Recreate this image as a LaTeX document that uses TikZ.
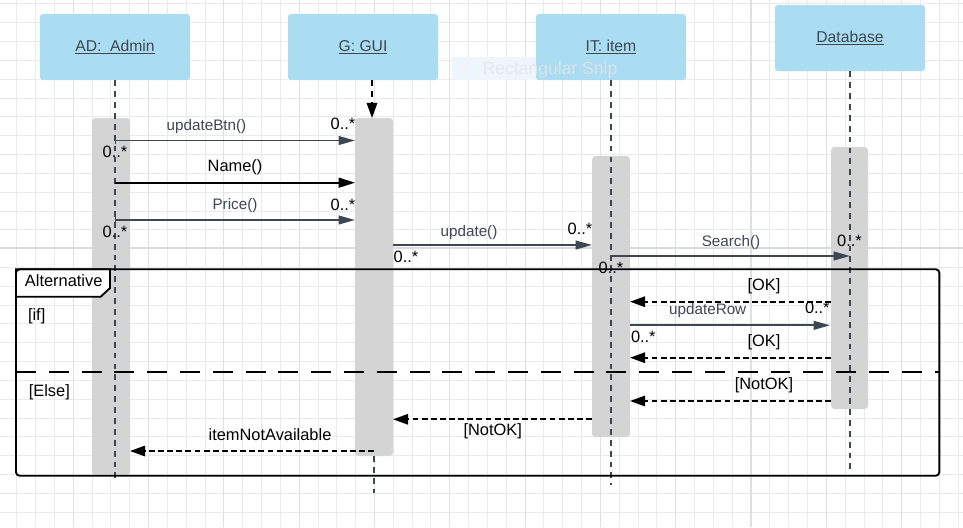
\documentclass[tikz,border=0pt]{standalone}
\usepackage{fontspec}
\setmainfont{Liberation Sans}
\usetikzlibrary{arrows.meta}
\definecolor{headblue}{RGB}{170,221,242}
\definecolor{actgray}{RGB}{212,212,212}
\definecolor{inkgray}{RGB}{61,71,82}
\definecolor{gridminor}{RGB}{234,234,234}
\definecolor{gridmajor}{RGB}{224,224,224}
\definecolor{snipblue}{RGB}{238,245,252}
\begin{document}
\begin{tikzpicture}[x=0.03cm,y=-0.03cm,
    head/.style={fill=headblue,rounded corners=2.5pt,minimum width=4.5cm,minimum height=1.98cm,
      text=inkgray,font=\fontsize{13.4}{16}\selectfont},
    activation/.style={fill=actgray,rounded corners=3pt},
    lifeline/.style={draw=inkgray,line width=1.5pt,dash pattern=on 5pt off 4.3pt},
    msg/.style={draw=inkgray,line width=1.4pt,-{Triangle[length=14pt,width=7.5pt]}},
    tickmsg/.style={msg,{Bar[width=6pt,line width=1.2pt]}-{Triangle[length=14pt,width=7.5pt]}},
    blackmsg/.style={draw=black,line width=1.4pt,-{Triangle[length=14pt,width=8.5pt]}},
    reply/.style={draw=black,line width=1.5pt,dash pattern=on 5pt off 2.8pt,-{Triangle[length=13pt,width=9pt]}},
    frame/.style={draw=black,line width=1.6pt},
    lbl/.style={text=inkgray,font=\fontsize{13}{15}\selectfont,inner sep=0pt},
    blbl/.style={text=black,font=\fontsize{14}{16}\selectfont,inner sep=0pt}]
\useasboundingbox (0,0) rectangle (963,527);
\fill[white] (0,0) rectangle (963,527);
\foreach \i in {0,...,51}
  \draw[gridminor,line width=0.8pt] ({-2.13+\i*18.83},0) -- ++(0,527);
\foreach \i in {0,...,27}
  \draw[gridminor,line width=0.8pt] (0,{3.85+\i*18.83}) -- ++(963,0);
\foreach \i in {0,...,11}
  \draw[gridmajor,line width=0.9pt] ({73.1+\i*75.32},0) -- ++(0,527);
\draw[gray!28,line width=1.3pt] (0,248) -- (963,248);

% screenshot leftover
\fill[snipblue] (452,57) rectangle (673,80);
\fill[gray!10] (463,69) circle (3.5);

\node[head] (admin) at (115,47) {\underline{AD:~ Admin}};
\node[head] (gui) at (363,47) {\underline{G: GUI}};
\node[head] (item) at (611,47) {\underline{IT: item}};
\node[head] (db) at (850,38) {\underline{Database}};
\node[text=gray!20,opacity=0.8,font=\fontsize{15}{17}\selectfont,inner sep=0pt] (snip) at (550,70) {Rectangular Snip};

\fill[activation] (92,118) rectangle (130,475);
\fill[activation] (355,118) rectangle (393,456);
\fill[activation] (592,156) rectangle (630,437);
\fill[activation] (831,147) rectangle (868,409);

\coordinate (adminbot) at (115,483);
\coordinate (guitop) at (372,80);
\coordinate (guiin) at (372,118);
\coordinate (guiout) at (374,456);
\coordinate (guibot) at (374,493);
\coordinate (itembot) at (611,485);
\coordinate (dbbot) at (850,474);
\draw[lifeline] (admin.south) -- (adminbot);
\draw[lifeline,draw=black,-{Triangle[length=13pt,width=9pt]}] (guitop) -- (guiin);
\draw[lifeline] (guiout) -- (guibot);
\draw[lifeline] (item.south) -- (itembot);
\draw[lifeline] (db.south) -- (dbbot);

% alternative fragment
\draw[frame,fill=white] (16,269.3) -- (110,269.3) -- (110,288) -- (100.7,296.7) -- (16,296.7) -- cycle;
\draw[frame,rounded corners=3pt] (16,269.3) rectangle (939.3,475.7);
\draw[frame,dash pattern=on 17pt off 11pt] (16,372.3) -- (939.3,372.3);
\node[blbl] (alt) at (63.7,281) {Alternative};
\node[blbl] (ifguard) at (36.7,316.7) {[if]};
\node[blbl] (elseguard) at (49.3,392.3) {[Else]};

\coordinate (m1s) at (115,140.5); \coordinate (m1e) at (355,140.5);
\coordinate (m2s) at (115,182.7); \coordinate (m2e) at (355,182.7);
\coordinate (m3s) at (115,220);   \coordinate (m3e) at (355,220);
\coordinate (m4s) at (393,245);   \coordinate (m4e) at (592,245);
\coordinate (m5s) at (611,261);   \coordinate (m5e) at (850,256);
\coordinate (m6s) at (831,301.7); \coordinate (m6e) at (630,301.7);
\coordinate (m7s) at (630,325.3); \coordinate (m7e) at (830,325.3);
\coordinate (m8s) at (831,357.7); \coordinate (m8e) at (630,357.7);
\coordinate (m9s) at (831,401);   \coordinate (m9e) at (630,401);
\coordinate (m10s) at (592,419.3); \coordinate (m10e) at (393,419.3);
\coordinate (m11s) at (374,451);  \coordinate (m11e) at (130,451);

\draw[tickmsg] (m1s) -- (m1e);
\draw[blackmsg] (m2s) -- (m2e);
\draw[tickmsg] (m3s) -- (m3e);
\draw[msg] (m4s) -- (m4e);
\draw[msg] (m5s) |- (m5e);
\draw[reply] (m6s) -- (m6e);
\draw[msg] (m7s) -- (m7e);
\draw[reply] (m8s) -- (m8e);
\draw[reply] (m9s) -- (m9e);
\draw[reply] (m10s) -- (m10e);
\draw[reply] (m11s) -- (m11e);

\node[lbl] (updatebtn) at (206.5,127) {updateBtn()};
\node[blbl] (mult1a) at (343,124) {0..*};
\node[blbl] (mult1b) at (115,152) {0..*};
\node[blbl] (name) at (235,167.5) {Name()};
\node[lbl] (price) at (235,206) {Price()};
\node[blbl] (mult3a) at (343,205) {0..*};
\node[blbl] (mult3b) at (115,232) {0..*};
\node[lbl] (update) at (469,232.5) {update()};
\node[blbl] (mult4a) at (580,229) {0..*};
\node[blbl] (mult4b) at (406,257) {0..*};
\node[lbl] (search) at (731,242.7) {Search()};
\node[blbl] (mult5a) at (849.5,240.7) {0..*};
\node[blbl] (mult5b) at (611,268) {0..*};
\node[blbl] (ok1) at (764,286.7) {[OK]};
\node[lbl] (updaterow) at (707.7,310.7) {updateRow};
\node[blbl] (mult7a) at (817.3,308.3) {0..*};
\node[blbl] (mult7b) at (643.3,336.7) {0..*};
\node[blbl] (ok2) at (764,342.7) {[OK]};
\node[blbl] (notok1) at (764,385) {[NotOK]};
\node[blbl] (notok2) at (492.7,431.7) {[NotOK]};
\node[blbl] (notavail) at (270,435) {itemNotAvailable};
\end{tikzpicture}
\end{document}
